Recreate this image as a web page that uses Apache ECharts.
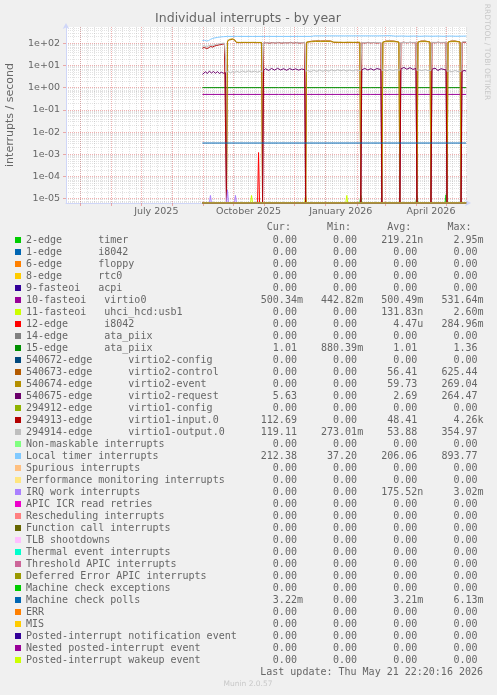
<!DOCTYPE html>
<html><head><meta charset="utf-8">
<script src="https://cdn.jsdelivr.net/npm/echarts@6.0.0/dist/echarts.min.js"></script>
<style>html,body{margin:0;padding:0;background:#f0f0f0}#c{width:497px;height:695px}</style>
</head><body><div id="c"></div><script>
// ---------- axis extents / ticks ----------
const X_START = '2025-04-16T22:20:16Z';
const X_END = '2026-05-21T22:20:16Z';
const Y_MIN = 6.4e-6;
const Y_MAX = 545;
const Y_DECADES = [1e-5, 1e-4, 1e-3, 1e-2, 1e-1, 1, 10, 100];
const MONTH_TICKS = ['2025-05-01','2025-06-01','2025-07-01','2025-08-01','2025-09-01','2025-10-01','2025-11-01','2025-12-01','2026-01-01','2026-02-01','2026-03-01','2026-04-01','2026-05-01'];
const LABEL_DATES = ['2025-07-16','2025-10-16','2026-01-16','2026-04-16'];
const TICK_LABELS = ['July 2025','October 2025','January 2026','April 2026'];

// ---------- legend table ----------
const NAMES = ['2-edge      timer','1-edge      i8042','6-edge      floppy','8-edge      rtc0','9-fasteoi   acpi','10-fasteoi   virtio0','11-fasteoi   uhci_hcd:usb1','12-edge      i8042','14-edge      ata_piix','15-edge      ata_piix','540672-edge      virtio2-config','540673-edge      virtio2-control','540674-edge      virtio2-event','540675-edge      virtio2-request','294912-edge      virtio1-config','294913-edge      virtio1-input.0','294914-edge      virtio1-output.0','Non-maskable interrupts','Local timer interrupts','Spurious interrupts','Performance monitoring interrupts','IRQ work interrupts','APIC ICR read retries','Rescheduling interrupts','Function call interrupts','TLB shootdowns','Thermal event interrupts','Threshold APIC interrupts','Deferred Error APIC interrupts','Machine check exceptions','Machine check polls','ERR','MIS','Posted-interrupt notification event','Nested posted-interrupt event','Posted-interrupt wakeup event'];
const COLORS = ['#00CC00','#0066B3','#FF8000','#FFCC00','#330099','#990099','#CCFF00','#FF0000','#808080','#008F00','#00487D','#B35A00','#B38F00','#6B006B','#8FB300','#B30000','#BEBEBE','#80FF80','#80C9FF','#FFC080','#FFE680','#AA80FF','#EE00CC','#FF8080','#666600','#FFBFFF','#00FFCC','#CC6699','#999900','#00CC00','#0066B3','#FF8000','#FFCC00','#330099','#990099','#CCFF00'];
const CUR = ['0.00','0.00','0.00','0.00','0.00','500.34m','0.00','0.00','0.00','1.01','0.00','0.00','0.00','5.63','0.00','112.69','119.11','0.00','212.38','0.00','0.00','0.00','0.00','0.00','0.00','0.00','0.00','0.00','0.00','0.00','3.22m','0.00','0.00','0.00','0.00','0.00'];
const MIN_V = ['0.00','0.00','0.00','0.00','0.00','442.82m','0.00','0.00','0.00','880.39m','0.00','0.00','0.00','0.00','0.00','0.00','273.01m','0.00','37.20','0.00','0.00','0.00','0.00','0.00','0.00','0.00','0.00','0.00','0.00','0.00','0.00','0.00','0.00','0.00','0.00','0.00'];
const AVG = ['219.21n','0.00','0.00','0.00','0.00','500.49m','131.83n','4.47u','0.00','1.01','0.00','56.41','59.73','2.69','0.00','48.41','53.88','0.00','206.06','0.00','0.00','175.52n','0.00','0.00','0.00','0.00','0.00','0.00','0.00','0.00','3.21m','0.00','0.00','0.00','0.00','0.00'];
const MAX_V = ['2.95m','0.00','0.00','0.00','0.00','531.64m','2.60m','284.96m','0.00','1.36','0.00','625.44','269.04','264.47','0.00','4.26k','354.97','0.00','893.77','0.00','0.00','3.02m','0.00','0.00','0.00','0.00','0.00','0.00','0.00','0.00','6.13m','0.00','0.00','0.00','0.00','0.00'];

// ---------- series values (date, interrupts/s) ----------
const ZERO_LINE = [['2025-08-31',0],['2026-05-21',0]];
const TIMER = [['2025-08-31',0],['2026-02-04',0],['2026-02-05',1.4e-5],['2026-02-06',0],['2026-04-01',0],['2026-04-02',1.4e-5],['2026-04-03',0],['2026-04-30',0],['2026-05-01',1.5e-5],['2026-05-02',0],['2026-05-21',0]];
const VIRTIO0 = [['2025-08-31',0.50],['2025-11-15',0.50],['2026-02-15',0.50],['2026-05-21',0.50]];
const UHCI = [['2025-08-31',0],['2025-10-18',0],['2025-10-19',1.4e-5],['2025-10-20',0],['2025-12-11',0],['2025-12-12',1.4e-5],['2025-12-13',0],['2026-01-21',0],['2026-01-22',1.4e-5],['2026-01-23',0],['2026-05-21',0]];
const I8042 = [['2025-08-31',0],['2025-10-25',0],['2025-10-26',1.2e-3],['2025-10-27',0],['2026-05-21',0]];
const ATA15 = [['2025-08-31',1.01],['2025-11-15',1.01],['2026-02-15',1.01],['2026-05-21',1.01]];
const V2_CTL = [['2025-08-31',0],['2025-09-24',0],['2025-09-25',120],['2025-09-27',142],['2025-09-30',152],['2025-10-02',140],['2025-10-04',108],['2025-10-08',108],['2025-10-12',109],['2025-10-16',108],['2025-10-20',109],['2025-10-24',108],['2025-10-29',108],['2025-10-30',0],['2025-12-12',0],['2025-12-13',112],['2025-12-18',126],['2025-12-22',130],['2025-12-27',129],['2026-01-01',130],['2026-01-06',129],['2026-01-09',111],['2026-01-14',110],['2026-01-19',109],['2026-01-24',110],['2026-01-29',109],['2026-02-04',110],['2026-02-05',0],['2026-02-26',0],['2026-02-27',112],['2026-03-02',128],['2026-03-06',129],['2026-03-10',128],['2026-03-15',113],['2026-03-16',0],['2026-04-02',0],['2026-04-03',113],['2026-04-06',128],['2026-04-10',129],['2026-04-15',114],['2026-04-16',0],['2026-05-02',0],['2026-05-03',113],['2026-05-06',128],['2026-05-10',129],['2026-05-15',114],['2026-05-16',0],['2026-05-21',0]];
const V2_EVT = [['2025-08-31',0],['2025-09-24',0],['2025-09-25',130],['2025-09-27',150],['2025-09-30',160],['2025-10-02',148],['2025-10-04',112],['2025-10-08',110],['2025-10-12',111],['2025-10-16',110],['2025-10-20',111],['2025-10-24',110],['2025-10-29',110],['2025-10-30',0],['2025-12-12',0],['2025-12-13',114],['2025-12-18',118],['2025-12-22',121],['2025-12-27',120],['2026-01-01',121],['2026-01-06',120],['2026-01-09',113],['2026-01-14',112],['2026-01-19',111],['2026-01-24',112],['2026-01-29',111],['2026-02-04',112],['2026-02-05',0],['2026-02-26',0],['2026-02-27',114],['2026-03-02',119],['2026-03-06',120],['2026-03-10',119],['2026-03-15',115],['2026-03-16',0],['2026-04-02',0],['2026-04-03',115],['2026-04-06',119],['2026-04-10',120],['2026-04-15',116],['2026-04-16',0],['2026-05-02',0],['2026-05-03',115],['2026-05-06',119],['2026-05-10',120],['2026-05-15',116],['2026-05-16',0],['2026-05-21',0]];
const V2_REQ = [['2025-08-31',4.0],['2025-09-01',4.2],['2025-09-03',5.2],['2025-09-05',4.4],['2025-09-07',5.6],['2025-09-09',4.6],['2025-09-11',5.4],['2025-09-13',4.5],['2025-09-15',5.3],['2025-09-17',4.4],['2025-09-19',5.0],['2025-09-21',4.5],['2025-09-23',4.8],['2025-09-24',0],['2025-10-30',0],['2025-10-31',6.0],['2025-11-02',7.2],['2025-11-05',6.0],['2025-11-08',7.4],['2025-11-11',6.2],['2025-11-14',7.5],['2025-11-17',6.3],['2025-11-20',7.2],['2025-11-23',6.1],['2025-11-26',7.3],['2025-11-29',6.4],['2025-12-02',7.1],['2025-12-05',6.2],['2025-12-08',7.0],['2025-12-11',6.5],['2025-12-12',0],['2026-02-05',0],['2026-02-06',6.4],['2026-02-09',7.4],['2026-02-12',6.3],['2026-02-15',7.2],['2026-02-18',6.2],['2026-02-21',7.3],['2026-02-25',6.6],['2026-02-26',0],['2026-03-16',0],['2026-03-17',7.0],['2026-03-20',8.2],['2026-03-23',6.8],['2026-03-26',8.0],['2026-03-29',6.7],['2026-04-01',7.4],['2026-04-02',0],['2026-04-16',0],['2026-04-17',6.8],['2026-04-20',7.6],['2026-04-23',6.0],['2026-04-26',7.2],['2026-05-01',6.3],['2026-05-02',0],['2026-05-16',0],['2026-05-17',5.4],['2026-05-19',6.0],['2026-05-21',5.63]];
const V1_IN = [['2025-08-31',60],['2025-09-02',66],['2025-09-04',58],['2025-09-06',62],['2025-09-08',72],['2025-09-10',68],['2025-09-12',75],['2025-09-14',80],['2025-09-16',84],['2025-09-18',88],['2025-09-20',92],['2025-09-22',95],['2025-09-23',96],['2025-09-24',0],['2025-10-30',0],['2025-10-31',104],['2025-11-03',108],['2025-11-06',102],['2025-11-09',109],['2025-11-12',104],['2025-11-15',110],['2025-11-18',103],['2025-11-21',108],['2025-11-24',105],['2025-11-27',110],['2025-11-30',104],['2025-12-03',109],['2025-12-06',103],['2025-12-09',108],['2025-12-11',106],['2025-12-12',0],['2026-02-05',0],['2026-02-06',108],['2026-02-09',104],['2026-02-12',110],['2026-02-15',105],['2026-02-18',109],['2026-02-21',104],['2026-02-25',108],['2026-02-26',0],['2026-03-16',0],['2026-03-17',108],['2026-03-20',112],['2026-03-23',106],['2026-03-26',111],['2026-03-29',107],['2026-04-01',110],['2026-04-02',0],['2026-04-16',0],['2026-04-17',110],['2026-04-20',106],['2026-04-23',112],['2026-04-26',107],['2026-05-01',110],['2026-05-02',0],['2026-05-16',0],['2026-05-17',110],['2026-05-19',114],['2026-05-21',112.69]];
const V1_OUT = [['2025-08-31',72],['2025-09-02',78],['2025-09-04',70],['2025-09-06',76],['2025-09-08',84],['2025-09-10',80],['2025-09-12',86],['2025-09-14',90],['2025-09-16',94],['2025-09-18',97],['2025-09-20',100],['2025-09-22',102],['2025-09-23',103],['2025-09-24',5.0],['2025-09-26',5.5],['2025-09-28',4.6],['2025-09-30',5.4],['2025-10-02',4.8],['2025-10-04',5.6],['2025-10-07',4.9],['2025-10-10',5.7],['2025-10-13',5.0],['2025-10-16',5.8],['2025-10-19',5.1],['2025-10-22',5.6],['2025-10-25',5.0],['2025-10-28',5.7],['2025-10-30',5.2],['2025-10-31',106],['2025-11-04',107],['2025-11-08',105],['2025-11-12',107],['2025-11-16',106],['2025-11-20',107],['2025-11-24',105],['2025-11-28',107],['2025-12-02',106],['2025-12-06',107],['2025-12-11',107],['2025-12-12',5.5],['2025-12-14',6.0],['2025-12-17',5.2],['2025-12-20',6.2],['2025-12-23',5.4],['2025-12-26',6.3],['2025-12-29',5.5],['2026-01-01',6.2],['2026-01-04',5.6],['2026-01-07',6.4],['2026-01-10',5.7],['2026-01-13',6.5],['2026-01-16',5.8],['2026-01-19',6.4],['2026-01-22',5.6],['2026-01-25',6.3],['2026-01-28',5.7],['2026-01-31',6.4],['2026-02-03',5.9],['2026-02-05',6.0],['2026-02-06',108],['2026-02-12',107],['2026-02-18',108],['2026-02-25',109],['2026-02-26',6.0],['2026-02-28',6.5],['2026-03-03',5.8],['2026-03-06',6.6],['2026-03-09',5.9],['2026-03-12',6.5],['2026-03-16',6.2],['2026-03-17',110],['2026-03-23',109],['2026-03-29',110],['2026-04-01',111],['2026-04-02',6.0],['2026-04-04',6.4],['2026-04-07',5.8],['2026-04-10',6.6],['2026-04-13',5.9],['2026-04-16',6.0],['2026-04-17',111],['2026-04-23',110],['2026-05-01',111],['2026-05-02',5.5],['2026-05-04',5.8],['2026-05-07',5.2],['2026-05-10',6.0],['2026-05-13',5.3],['2026-05-16',5.5],['2026-05-17',116],['2026-05-19',120],['2026-05-21',119.11]];
const LOCAL_TIMER = [['2025-08-31',135],['2025-09-02',138],['2025-09-04',128],['2025-09-06',132],['2025-09-08',150],['2025-09-10',165],['2025-09-12',175],['2025-09-15',185],['2025-09-18',195],['2025-09-21',200],['2025-09-25',205],['2025-10-05',206],['2025-10-20',205],['2025-11-05',206],['2025-11-20',205],['2025-12-05',206],['2025-12-18',206],['2025-12-20',216],['2026-01-05',217],['2026-01-20',216],['2026-02-05',217],['2026-02-20',216],['2026-02-27',218],['2026-02-28',226],['2026-03-06',222],['2026-03-12',210],['2026-03-18',214],['2026-03-24',209],['2026-03-30',213],['2026-04-05',208],['2026-04-11',213],['2026-04-17',209],['2026-04-23',212],['2026-04-29',208],['2026-05-05',213],['2026-05-11',209],['2026-05-17',211],['2026-05-21',212.38]];
const IRQ_WORK = [['2025-08-31',0],['2025-09-07',0],['2025-09-08',1.4e-5],['2025-09-09',0],['2025-09-24',0],['2025-09-25',2.5e-5],['2025-09-26',0],['2025-10-02',0],['2025-10-03',1.4e-5],['2025-10-04',0],['2026-05-21',0]];
const MC_POLLS = [['2025-08-31',3.22e-3],['2025-11-15',3.22e-3],['2026-02-15',3.22e-3],['2026-05-21',3.22e-3]];

const SERIES_DATA = {
  0: TIMER, 5: VIRTIO0, 6: UHCI, 7: I8042, 9: ATA15, 11: V2_CTL, 12: V2_EVT,
  13: V2_REQ, 15: V1_IN, 16: V1_OUT, 18: LOCAL_TIMER, 21: IRQ_WORK, 30: MC_POLLS
};

// ---------- build ----------
const ts = d => Date.parse(d.length === 10 ? d + 'T00:00:00Z' : d);
const toPoints = arr => arr.map(([d, v]) => [ts(d), v === 0 ? Y_MIN : v]);
const weekly = [];
for (let t = ts('2025-04-17'); t <= ts(X_END); t += 7 * 86400000) weekly.push(t);
const minorY = [];
for (let e = -6; e <= 2; e++) for (let m = 2; m <= 9; m++) { const v = m * Math.pow(10, e); if (v > Y_MIN && v < Y_MAX) minorY.push(v); }

function fmtVal(s) {
  const last = s.slice(-1);
  const has = /[a-zA-Z]/.test(last);
  const num = has ? s.slice(0, -1) : s;
  return num.padStart(9, ' ') + (has ? last : ' ');
}
const FONT = '"DejaVu Sans", sans-serif';
const MONO = '"DejaVu Sans Mono", monospace';
const MGRID = 'rgba(222,79,79,0.45)';
const GRID = 'rgba(143,143,143,0.26)';

const series = NAMES.map((name, i) => ({
  name, type: 'line', xAxisIndex: 0, yAxisIndex: 0,
  data: toPoints(SERIES_DATA[i] || ZERO_LINE),
  symbol: 'none', showSymbol: false, silent: true, animation: false,
  lineStyle: { width: 1, color: COLORS[i] }, itemStyle: { color: COLORS[i] },
  emphasis: { disabled: true }
}));

const chart = echarts.init(document.getElementById('c'), null, { renderer: 'canvas' });
chart.setOption({
  backgroundColor: '#f0f0f0',
  animation: false,
  grid: { left: 66, right: 30, top: 27, bottom: 492, show: true, backgroundColor: '#ffffff', borderWidth: 0, containLabel: false, outerBoundsMode: 'none' },
  xAxis: [
    { type: 'value', min: ts(X_START), max: ts(X_END),
      axisLine: { show: true, lineStyle: { color: '#CFD6F8', width: 1 }, symbol: ['none', 'arrow'], symbolSize: [5, 6], symbolOffset: [0, 4] },
      axisTick: { show: true, length: 3, customValues: MONTH_TICKS.map(ts), lineStyle: { color: MGRID } },
      axisLabel: { customValues: LABEL_DATES.map(ts), margin: 4, color: '#666', fontFamily: FONT, fontSize: 9.5,
        formatter: v => { const i = LABEL_DATES.map(ts).indexOf(v); return i >= 0 ? TICK_LABELS[i] : ''; } },
      splitLine: { show: true, lineStyle: { color: MGRID, width: 1, type: [1, 1] } } },
    { type: 'value', min: ts(X_START), max: ts(X_END), position: 'bottom',
      axisLine: { show: false }, axisLabel: { show: false },
      axisTick: { show: false, customValues: weekly },
      splitLine: { show: true, lineStyle: { color: GRID, width: 1, type: [1, 1] } } }
  ],
  yAxis: [
    { type: 'log', logBase: 10, min: Y_MIN, max: Y_MAX,
      axisLine: { show: true, lineStyle: { color: '#CFD6F8', width: 1 }, symbol: ['none', 'arrow'], symbolSize: [5, 6], symbolOffset: [0, 4] },
      axisTick: { show: true, length: 3, customValues: Y_DECADES, lineStyle: { color: MGRID } },
      axisLabel: { customValues: Y_DECADES, margin: 6, color: '#666', fontFamily: FONT, fontSize: 9.5,
        formatter: v => { const e = Math.round(Math.log10(v)); return '1e' + (e < 0 ? '-' : '+') + String(Math.abs(e)).padStart(2, '0'); } },
      splitLine: { show: true, lineStyle: { color: MGRID, width: 1, type: [1, 1] } } },
    { type: 'log', logBase: 10, min: Y_MIN, max: Y_MAX, position: 'left',
      axisLine: { show: false }, axisLabel: { show: false },
      axisTick: { show: false, customValues: minorY },
      splitLine: { show: true, lineStyle: { color: GRID, width: 1, type: [1, 1] } } }
  ],
  legend: {
    orient: 'vertical', left: 15, top: 234, padding: 0, itemGap: 0,
    itemWidth: 6, itemHeight: 6, icon: 'rect', selectedMode: false,
    data: NAMES,
    textStyle: { fontFamily: MONO, fontSize: 10, color: '#666', lineHeight: 12 },
    formatter: name => { const i = NAMES.indexOf(name); return name.padEnd(36, ' ') + fmtVal(CUR[i]) + fmtVal(MIN_V[i]) + fmtVal(AVG[i]) + fmtVal(MAX_V[i]); }
  },
  graphic: [
    { type: 'text', x: 248, y: 19, silent: true, style: { text: 'Individual interrupts - by year', font: '12.5px ' + FONT, fill: '#666', align: 'center', verticalAlign: 'middle' } },
    { type: 'text', x: 10, y: 115, rotation: Math.PI / 2, silent: true, style: { text: 'interrupts / second', font: '11px ' + FONT, fill: '#666', align: 'center', verticalAlign: 'middle' } },
    { type: 'text', x: 26, y: 227, silent: true, style: { text: ' '.repeat(40) + 'Cur:' + ' '.repeat(6) + 'Min:' + ' '.repeat(6) + 'Avg:' + ' '.repeat(6) + 'Max:', font: '10px ' + MONO, fill: '#666', align: 'left', verticalAlign: 'middle' } },
    { type: 'text', x: 483, y: 672, silent: true, style: { text: 'Last update: Thu May 21 22:20:16 2026', font: '10px ' + MONO, fill: '#666', align: 'right', verticalAlign: 'middle' } },
    { type: 'text', x: 248, y: 684, silent: true, style: { text: 'Munin 2.0.57', font: '7.5px ' + FONT, fill: '#c8c8c8', align: 'center', verticalAlign: 'middle' } },
    { type: 'text', x: 487, y: 52, rotation: -Math.PI / 2, silent: true, style: { text: 'RRDTOOL / TOBI OETIKER', font: '7.5px ' + FONT, fill: '#c8c8c8', align: 'center', verticalAlign: 'middle' } }
  ],
  series
});
</script></body></html>
